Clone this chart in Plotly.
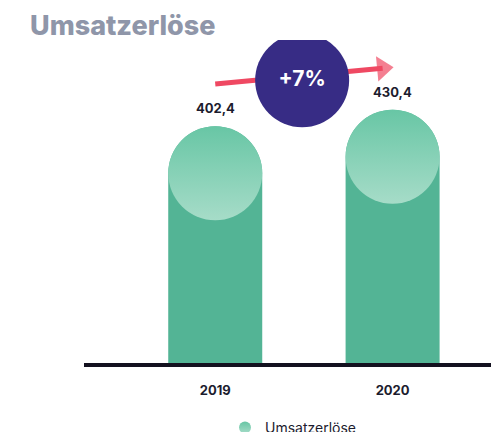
import plotly.graph_objects as go

# data
years = ["2019", "2020"]
revenue = [402.4, 430.4]
series_name = "Umsatzerlöse"

# layout constants (pixels); the page adds an 8px body margin
W, H = 499, 432
M_L, M_R, M_T, M_B = 76, 0, 32, 77
Y_MAX = 549
PX_PER_X = 177.35
X_LO = -0.74
BAR_PX = 94

plot_h = H - M_T - M_B
plot_w = W - M_L - M_R
x_range = [X_LO, X_LO + plot_w / PX_PER_X]
units_per_px_y = Y_MAX / plot_h
bar_w = BAR_PX / PX_PER_X
cap_r = (BAR_PX / 2) * units_per_px_y

xs = list(range(len(years)))
growth = (revenue[-1] / revenue[0] - 1) * 100
arrow_gap = 72
arrow_y = [v + arrow_gap for v in revenue]

fig = go.Figure()

# bar bodies (rounded top hidden under the cap)
fig.add_trace(
    go.Bar(
        x=xs,
        y=revenue,
        width=bar_w,
        marker=dict(color="#53b495", cornerradius=BAR_PX / 2, line=dict(width=0)),
        showlegend=False,
        hoverinfo="skip",
    )
)

# light cap on top of each bar
fig.add_trace(
    go.Scatter(
        x=xs,
        y=[v - cap_r for v in revenue],
        mode="markers",
        name=series_name,
        marker=dict(
            size=BAR_PX,
            color="#68c6a5",
            gradient=dict(type="vertical", color="#a6dcc8"),
            line=dict(width=0),
        ),
        showlegend=True,
        hoverinfo="skip",
    )
)

# growth arrow
fig.add_trace(
    go.Scatter(
        x=xs,
        y=arrow_y,
        mode="lines+markers",
        line=dict(color="#ef4862", width=5),
        marker=dict(
            symbol=["circle", "triangle-up"],
            size=[0, 22],
            color="#ef4862",
            angleref="previous",
            standoff=10,
            line=dict(width=0),
        ),
        showlegend=False,
        hoverinfo="skip",
    )
)

# growth bubble
fig.add_trace(
    go.Scatter(
        x=[sum(xs) / len(xs) - 0.01],
        y=[sum(arrow_y) / len(arrow_y) - 8],
        mode="markers+text",
        text=[f"+{growth:.0f}%"],
        textposition="middle center",
        textfont=dict(family="Inter", size=21, color="white", weight=700),
        marker=dict(size=94, color="#372c85", line=dict(width=0)),
        showlegend=False,
        hoverinfo="skip",
    )
)

# value labels
for x, v in zip(xs, revenue):
    fig.add_annotation(
        x=x,
        y=v,
        text=f"{v:.1f}".replace(".", ","),
        showarrow=False,
        yanchor="bottom",
        yshift=8,
        font=dict(family="Inter", size=13, color="#1c1c2e", weight=700),
    )

fig.update_layout(
    width=W,
    height=H,
    margin=dict(l=M_L, r=M_R, t=M_T, b=M_B, autoexpand=False),
    paper_bgcolor="white",
    plot_bgcolor="white",
    title=dict(
        text=series_name,
        x=22 / W,
        xanchor="left",
        y=1 - 18 / H,
        yanchor="middle",
        font=dict(family="Inter", size=27, color="#8f96a9", weight=800),
    ),
    xaxis=dict(
        range=x_range,
        tickvals=xs,
        ticktext=years,
        showgrid=False,
        zeroline=False,
        showline=True,
        linewidth=4,
        linecolor="#13111f",
        ticks="",
        ticklabelstandoff=12,
        tickfont=dict(family="Inter", size=13, color="#1c1c2e", weight=700),
        fixedrange=True,
    ),
    yaxis=dict(
        range=[0, Y_MAX],
        visible=False,
        fixedrange=True,
    ),
    showlegend=True,
    legend=dict(
        orientation="h",
        xref="container",
        yref="container",
        x=217 / W,
        xanchor="left",
        y=1 - 420 / H,
        yanchor="middle",
        itemsizing="constant",
        bgcolor="rgba(0,0,0,0)",
        font=dict(family="Inter", size=14, color="#1c1c2e"),
    ),
)

fig.write_html("out.html")
